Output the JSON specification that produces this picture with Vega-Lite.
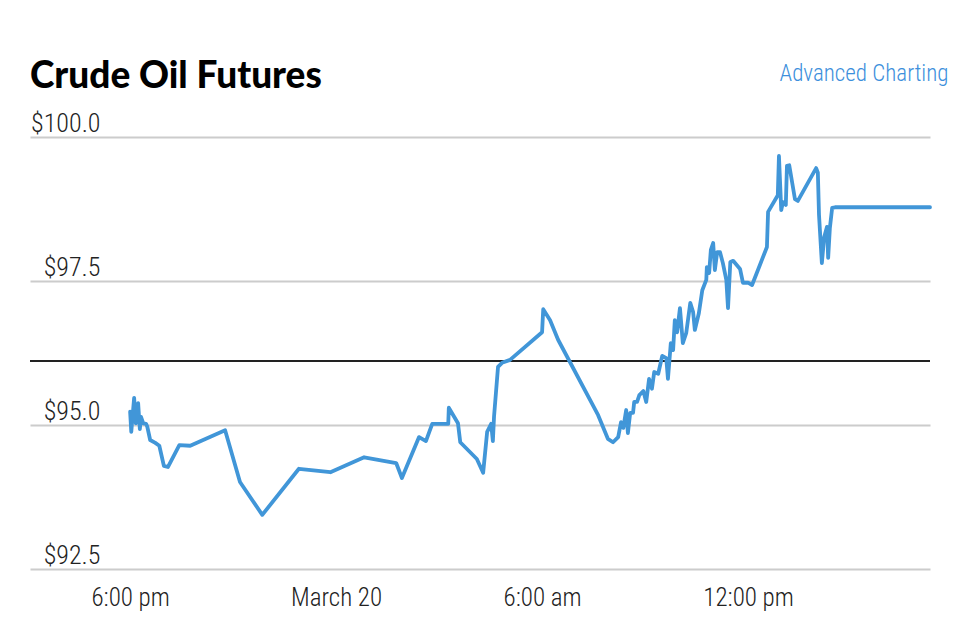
{
  "$schema": "https://vega.github.io/schema/vega-lite/v6.json",
  "width": 900,
  "height": 432,
  "autosize": {"type": "none"},
  "padding": {"left": 30, "top": 137, "right": 40, "bottom": 57},
  "background": "white",
  "title": {
    "text": "Crude Oil Futures",
    "anchor": "start",
    "frame": "group",
    "font": "Lato",
    "fontSize": 37,
    "fontWeight": 900,
    "color": "#000000",
    "offset": -34
  },
  "config": {
    "view": {"stroke": null}
  },
  "datasets": {
    "prices": [
      {"time": "2024-03-19T18:00", "price": 95.23},
      {"time": "2024-03-19T18:02", "price": 94.88},
      {"time": "2024-03-19T18:07", "price": 95.47},
      {"time": "2024-03-19T18:10", "price": 95.03},
      {"time": "2024-03-19T18:14", "price": 95.38},
      {"time": "2024-03-19T18:17", "price": 94.93},
      {"time": "2024-03-19T18:19", "price": 95.14},
      {"time": "2024-03-19T18:23", "price": 95.03},
      {"time": "2024-03-19T18:28", "price": 95.02},
      {"time": "2024-03-19T18:30", "price": 94.97},
      {"time": "2024-03-19T18:35", "price": 94.74},
      {"time": "2024-03-19T18:44", "price": 94.69},
      {"time": "2024-03-19T18:51", "price": 94.64},
      {"time": "2024-03-19T18:59", "price": 94.29},
      {"time": "2024-03-19T19:06", "price": 94.27},
      {"time": "2024-03-19T19:26", "price": 94.65},
      {"time": "2024-03-19T19:45", "price": 94.64},
      {"time": "2024-03-19T20:46", "price": 94.91},
      {"time": "2024-03-19T21:12", "price": 94.01},
      {"time": "2024-03-19T21:51", "price": 93.44},
      {"time": "2024-03-19T22:55", "price": 94.24},
      {"time": "2024-03-19T23:50", "price": 94.18},
      {"time": "2024-03-20T00:49", "price": 94.44},
      {"time": "2024-03-20T01:45", "price": 94.34},
      {"time": "2024-03-20T01:55", "price": 94.08},
      {"time": "2024-03-20T02:25", "price": 94.79},
      {"time": "2024-03-20T02:37", "price": 94.72},
      {"time": "2024-03-20T02:48", "price": 95.02},
      {"time": "2024-03-20T03:16", "price": 95.02},
      {"time": "2024-03-20T03:17", "price": 95.30},
      {"time": "2024-03-20T03:33", "price": 95.03},
      {"time": "2024-03-20T03:37", "price": 94.70},
      {"time": "2024-03-20T04:06", "price": 94.41},
      {"time": "2024-03-20T04:17", "price": 94.17},
      {"time": "2024-03-20T04:24", "price": 94.88},
      {"time": "2024-03-20T04:31", "price": 95.02},
      {"time": "2024-03-20T04:34", "price": 94.72},
      {"time": "2024-03-20T04:36", "price": 95.14},
      {"time": "2024-03-20T04:43", "price": 96.01},
      {"time": "2024-03-20T04:50", "price": 96.08},
      {"time": "2024-03-20T05:04", "price": 96.13},
      {"time": "2024-03-20T06:00", "price": 96.61},
      {"time": "2024-03-20T06:02", "price": 97.01},
      {"time": "2024-03-20T06:14", "price": 96.82},
      {"time": "2024-03-20T06:28", "price": 96.48},
      {"time": "2024-03-20T07:38", "price": 95.17},
      {"time": "2024-03-20T07:55", "price": 94.76},
      {"time": "2024-03-20T08:04", "price": 94.70},
      {"time": "2024-03-20T08:13", "price": 94.79},
      {"time": "2024-03-20T08:18", "price": 95.05},
      {"time": "2024-03-20T08:22", "price": 94.95},
      {"time": "2024-03-20T08:27", "price": 95.26},
      {"time": "2024-03-20T08:30", "price": 94.86},
      {"time": "2024-03-20T08:34", "price": 95.21},
      {"time": "2024-03-20T08:39", "price": 95.21},
      {"time": "2024-03-20T08:41", "price": 95.40},
      {"time": "2024-03-20T08:46", "price": 95.40},
      {"time": "2024-03-20T08:50", "price": 95.52},
      {"time": "2024-03-20T08:57", "price": 95.59},
      {"time": "2024-03-20T09:02", "price": 95.40},
      {"time": "2024-03-20T09:07", "price": 95.80},
      {"time": "2024-03-20T09:12", "price": 95.63},
      {"time": "2024-03-20T09:16", "price": 95.92},
      {"time": "2024-03-20T09:23", "price": 95.89},
      {"time": "2024-03-20T09:30", "price": 96.20},
      {"time": "2024-03-20T09:37", "price": 96.16},
      {"time": "2024-03-20T09:40", "price": 95.80},
      {"time": "2024-03-20T09:45", "price": 96.42},
      {"time": "2024-03-20T09:49", "price": 96.30},
      {"time": "2024-03-20T09:52", "price": 96.82},
      {"time": "2024-03-20T09:56", "price": 96.61},
      {"time": "2024-03-20T10:01", "price": 97.03},
      {"time": "2024-03-20T10:06", "price": 96.42},
      {"time": "2024-03-20T10:12", "price": 96.60},
      {"time": "2024-03-20T10:19", "price": 97.12},
      {"time": "2024-03-20T10:24", "price": 96.96},
      {"time": "2024-03-20T10:27", "price": 96.65},
      {"time": "2024-03-20T10:34", "price": 96.94},
      {"time": "2024-03-20T10:40", "price": 97.34},
      {"time": "2024-03-20T10:47", "price": 97.52},
      {"time": "2024-03-20T10:48", "price": 97.74},
      {"time": "2024-03-20T10:52", "price": 97.64},
      {"time": "2024-03-20T10:55", "price": 98.04},
      {"time": "2024-03-20T10:59", "price": 98.16},
      {"time": "2024-03-20T11:02", "price": 97.69},
      {"time": "2024-03-20T11:06", "price": 98.00},
      {"time": "2024-03-20T11:11", "price": 98.00},
      {"time": "2024-03-20T11:16", "price": 97.81},
      {"time": "2024-03-20T11:22", "price": 97.52},
      {"time": "2024-03-20T11:25", "price": 97.03},
      {"time": "2024-03-20T11:29", "price": 97.83},
      {"time": "2024-03-20T11:34", "price": 97.85},
      {"time": "2024-03-20T11:46", "price": 97.71},
      {"time": "2024-03-20T11:51", "price": 97.47},
      {"time": "2024-03-20T12:00", "price": 97.47},
      {"time": "2024-03-20T12:07", "price": 97.43},
      {"time": "2024-03-20T12:33", "price": 98.09},
      {"time": "2024-03-20T12:35", "price": 98.70},
      {"time": "2024-03-20T12:52", "price": 98.99},
      {"time": "2024-03-20T12:54", "price": 99.67},
      {"time": "2024-03-20T12:58", "price": 98.73},
      {"time": "2024-03-20T13:01", "price": 98.87},
      {"time": "2024-03-20T13:06", "price": 98.82},
      {"time": "2024-03-20T13:08", "price": 99.50},
      {"time": "2024-03-20T13:12", "price": 99.51},
      {"time": "2024-03-20T13:22", "price": 98.92},
      {"time": "2024-03-20T13:27", "price": 98.89},
      {"time": "2024-03-20T13:59", "price": 99.46},
      {"time": "2024-03-20T14:02", "price": 99.38},
      {"time": "2024-03-20T14:04", "price": 98.65},
      {"time": "2024-03-20T14:09", "price": 97.81},
      {"time": "2024-03-20T14:13", "price": 98.26},
      {"time": "2024-03-20T14:18", "price": 98.44},
      {"time": "2024-03-20T14:20", "price": 97.90},
      {"time": "2024-03-20T14:23", "price": 98.42},
      {"time": "2024-03-20T14:27", "price": 98.77},
      {"time": "2024-03-20T14:32", "price": 98.78},
      {"time": "2024-03-20T17:18", "price": 98.78}
    ],
    "close": [{"label": "Previous close", "price": 96.11}]
  },
  "layer": [
    {
      "data": {"name": "close"},
      "mark": {"type": "rule", "color": "#222222", "strokeWidth": 2},
      "encoding": {
        "y": {"field": "price", "type": "quantitative"}
      }
    },
    {
      "data": {"name": "prices"},
      "mark": {"type": "line", "color": "#4196d8", "strokeWidth": 3.8, "strokeJoin": "round", "strokeCap": "round"},
      "encoding": {
        "x": {
          "field": "time",
          "type": "temporal",
          "scale": {
            "domain": [
              {"year": 2024, "month": 3, "date": 19, "hours": 15, "minutes": 5},
              {"year": 2024, "month": 3, "date": 20, "hours": 17, "minutes": 18}
            ]
          },
          "axis": {
            "title": null,
            "grid": false,
            "domain": false,
            "ticks": false,
            "tickSize": 0,
            "labelPadding": 36,
            "labelBaseline": "alphabetic",
            "labelFont": "Roboto Condensed",
            "labelFontWeight": 300,
            "labelFontSize": 25,
            "labelColor": "#222222",
            "values": [
              {"year": 2024, "month": 3, "date": 19, "hours": 18},
              {"year": 2024, "month": 3, "date": 20, "hours": 0},
              {"year": 2024, "month": 3, "date": 20, "hours": 6},
              {"year": 2024, "month": 3, "date": 20, "hours": 12}
            ],
            "labelExpr": "hours(datum.value) == 0 ? timeFormat(datum.value, '%B %-d') : lower(timeFormat(datum.value, '%-I:%M %p'))"
          }
        },
        "y": {
          "field": "price",
          "type": "quantitative",
          "scale": {"domain": [92.5, 100], "nice": false, "zero": false},
          "axis": {
            "title": "Advanced Charting",
            "titleFont": "Roboto Condensed",
            "titleAngle": 0,
            "titleAlign": "right",
            "titleBaseline": "alphabetic",
            "titleX": 918,
            "titleY": -57,
            "titleFontSize": 23,
            "titleFontWeight": 300,
            "titleColor": "#3d8fdc",
            "values": [92.5, 95, 97.5, 100],
            "format": "$.1f",
            "grid": true,
            "gridColor": "#cccccc",
            "gridWidth": 2,
            "domain": false,
            "ticks": false,
            "tickSize": 0,
            "labelAlign": "right",
            "labelBaseline": "alphabetic",
            "labelPadding": -70,
            "labelOffset": -6,
            "labelFont": "Roboto Condensed",
            "labelFontWeight": 300,
            "labelFontSize": 26,
            "labelColor": "#222222"
          }
        }
      }
    }
  ]
}
